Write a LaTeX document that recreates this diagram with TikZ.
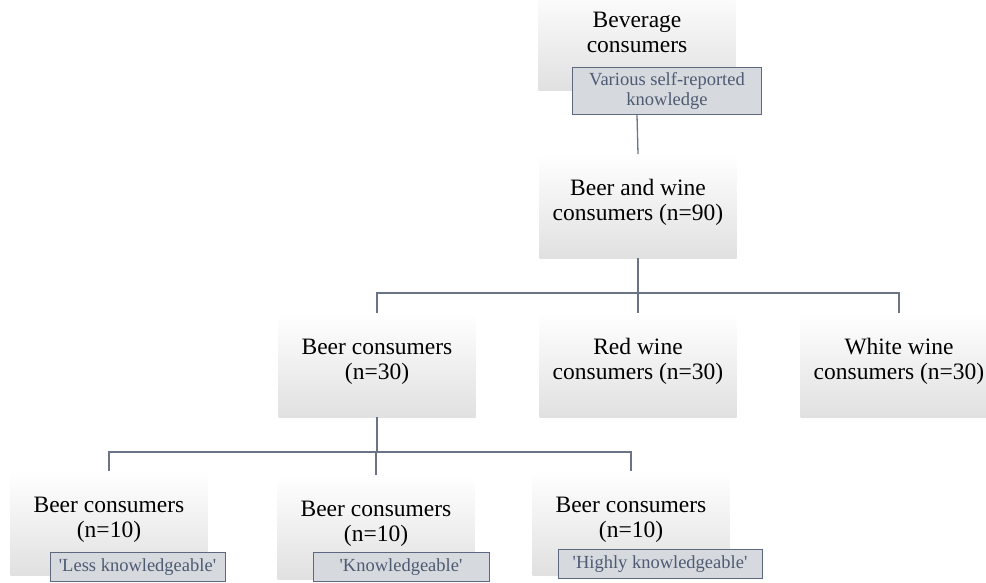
\documentclass[tikz,border=0pt]{standalone}
\usepackage{fontspec}
\setmainfont{Liberation Serif}
\usepackage{tikz}

\definecolor{linegray}{HTML}{6A7486}
\definecolor{subfill}{HTML}{D6D9DE}
\definecolor{subedge}{HTML}{5B6880}
\definecolor{subtext}{HTML}{4E5B72}

\tikzset{
    grp/.style={rectangle, top color=white, bottom color=black!12,
        minimum width=197pt, minimum height=104pt, inner sep=0pt, align=center,
        font=\fontsize{23.5}{25}\selectfont,
        execute at end node={\rule[-12pt]{0pt}{12pt}}},
    sub/.style={rectangle, draw=subedge, line width=1pt, fill=subfill, text=subtext,
        align=center, minimum width=176pt, inner ysep=6pt,
        font=\fontsize{18.5}{20}\selectfont},
    conn/.style={draw=linegray, line width=1.3pt}
}

\begin{document}
\begin{tikzpicture}[x=1pt,y=-1pt]
\useasboundingbox (0,0) rectangle (986,582);

    \node[grp] (bev) at (637,38){Beverage\\consumers};
    \node[grp] (bw) at (638,206){Beer and wine\\consumers (n=90)};

    \node[grp] (beer) at (377,365){Beer consumers\\(n=30)};
    \node[grp] (red) at (638,365){Red wine\\consumers (n=30)};
    \node[grp] (white) at (899,365){White wine\\consumers (n=30)};

    \node[grp] (b1) at (109,523){Beer consumers\\(n=10)};
    \node[grp] (b2) at (376,527){Beer consumers\\(n=10)};
    \node[grp] (b3) at (631,523){Beer consumers\\(n=10)};

    \node[sub, anchor=north, minimum width=189pt, inner ysep=5pt] (s0) at (667,67){Various self-reported\\knowledge};
    \node[sub, anchor=north, minimum width=175pt] (s1) at (137.5,552){\textquotesingle Less knowledgeable\textquotesingle};
    \node[sub, anchor=north] (s2) at (401,552){\textquotesingle Knowledgeable\textquotesingle};
    \node[sub, anchor=north, minimum width=204pt] (s3) at (660,549){\textquotesingle Highly knowledgeable\textquotesingle};

    \coordinate (bar1) at (0,293);
    \coordinate (bar2) at (0,452);

    \draw[conn] (s0.south -| bev) -- (bw.north);
    \draw[conn] (bw.south) -- (bw.south |- bar1);
    \draw[conn] (beer.north) -- (beer.north |- bar1) -- (white.north |- bar1) -- (white.north);
    \draw[conn] (red.north) -- (red.north |- bar1);

    \draw[conn] (beer.south) -- (beer.south |- bar2);
    \draw[conn] (b1.north) -- (b1.north |- bar2) -- (b3.north |- bar2) -- (b3.north);
    \draw[conn] (b2.north) -- (b2.north |- bar2);

\end{tikzpicture}
\end{document}
